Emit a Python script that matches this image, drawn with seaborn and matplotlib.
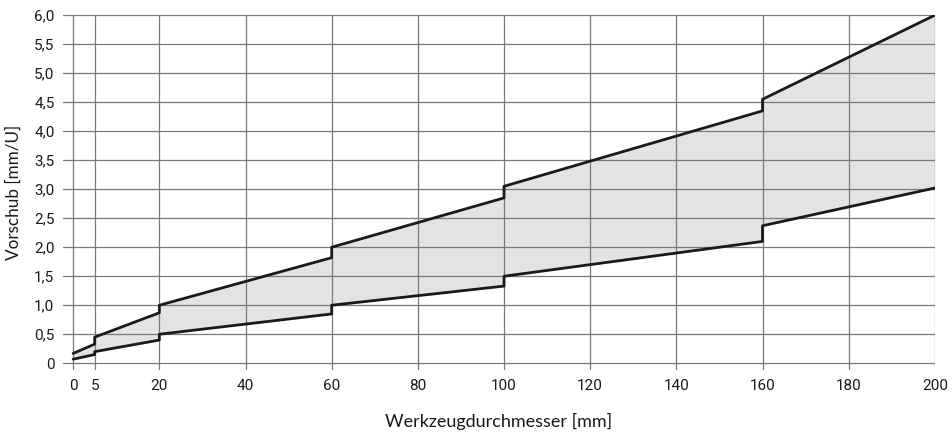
import numpy as np
import pandas as pd
import matplotlib
matplotlib.use("Agg")
import matplotlib.pyplot as plt
import seaborn as sns

# ----------------------------
# data
# ----------------------------
diameter = [0, 5, 5, 20, 20, 60, 60, 100, 100, 160, 160, 200]
feed_max = [0.17, 0.33, 0.45, 0.87, 1.0, 1.82, 2.0, 2.85, 3.05, 4.35, 4.55, 6.0]
feed_min = [0.07, 0.15, 0.20, 0.40, 0.50, 0.85, 1.0, 1.33, 1.50, 2.10, 2.37, 3.02]

x_ticks = [0, 5, 20, 40, 60, 80, 100, 120, 140, 160, 180, 200]
y_ticks = np.arange(0, 6.01, 0.5)

df = pd.DataFrame({"d": diameter, "hi": feed_max, "lo": feed_min})

sns.set_style("white")
plt.rcParams['font.family'] = ['Roboto', 'DejaVu Sans']

fig = plt.figure(figsize=(9.52, 4.33), dpi=100)
ax = fig.add_axes([0.066, 0.145, 0.916, 0.82])

ax.fill_between(df["d"], df["lo"], df["hi"], color="#e3e3e3", lw=0, zorder=1)
sns.lineplot(data=df, x="d", y="hi", estimator=None, sort=False,
             color="#1a1a1a", lw=2, ax=ax, zorder=3)
sns.lineplot(data=df, x="d", y="lo", estimator=None, sort=False,
             color="#1a1a1a", lw=2, ax=ax, zorder=3)

ax.set_xlim(-2.4, 200)
ax.set_ylim(-0.12, 6.0)
ax.set_xticks(x_ticks)
ax.set_yticks(y_ticks)
ax.set_yticklabels(["0" if v == 0 else f"{v:.1f}".replace(".", ",") for v in y_ticks])
ax.grid(True, color="#7a7a7a", lw=0.9, zorder=2)
ax.set_axisbelow(False)
for s in ax.spines.values():
    s.set_visible(False)
ax.tick_params(length=0, labelsize=11, colors="#1a1a1a", pad=6)

ax.set_xlabel("Werkzeugdurchmesser [mm]", fontsize=13, family=['Lato', 'DejaVu Sans'],
              color="#1a1a1a", labelpad=15)
ax.set_ylabel("Vorschub [mm/U]", fontsize=12.3, family=['Lato', 'DejaVu Sans'],
              color="#1a1a1a", labelpad=9)

fig.savefig("out.png", dpi=100)
